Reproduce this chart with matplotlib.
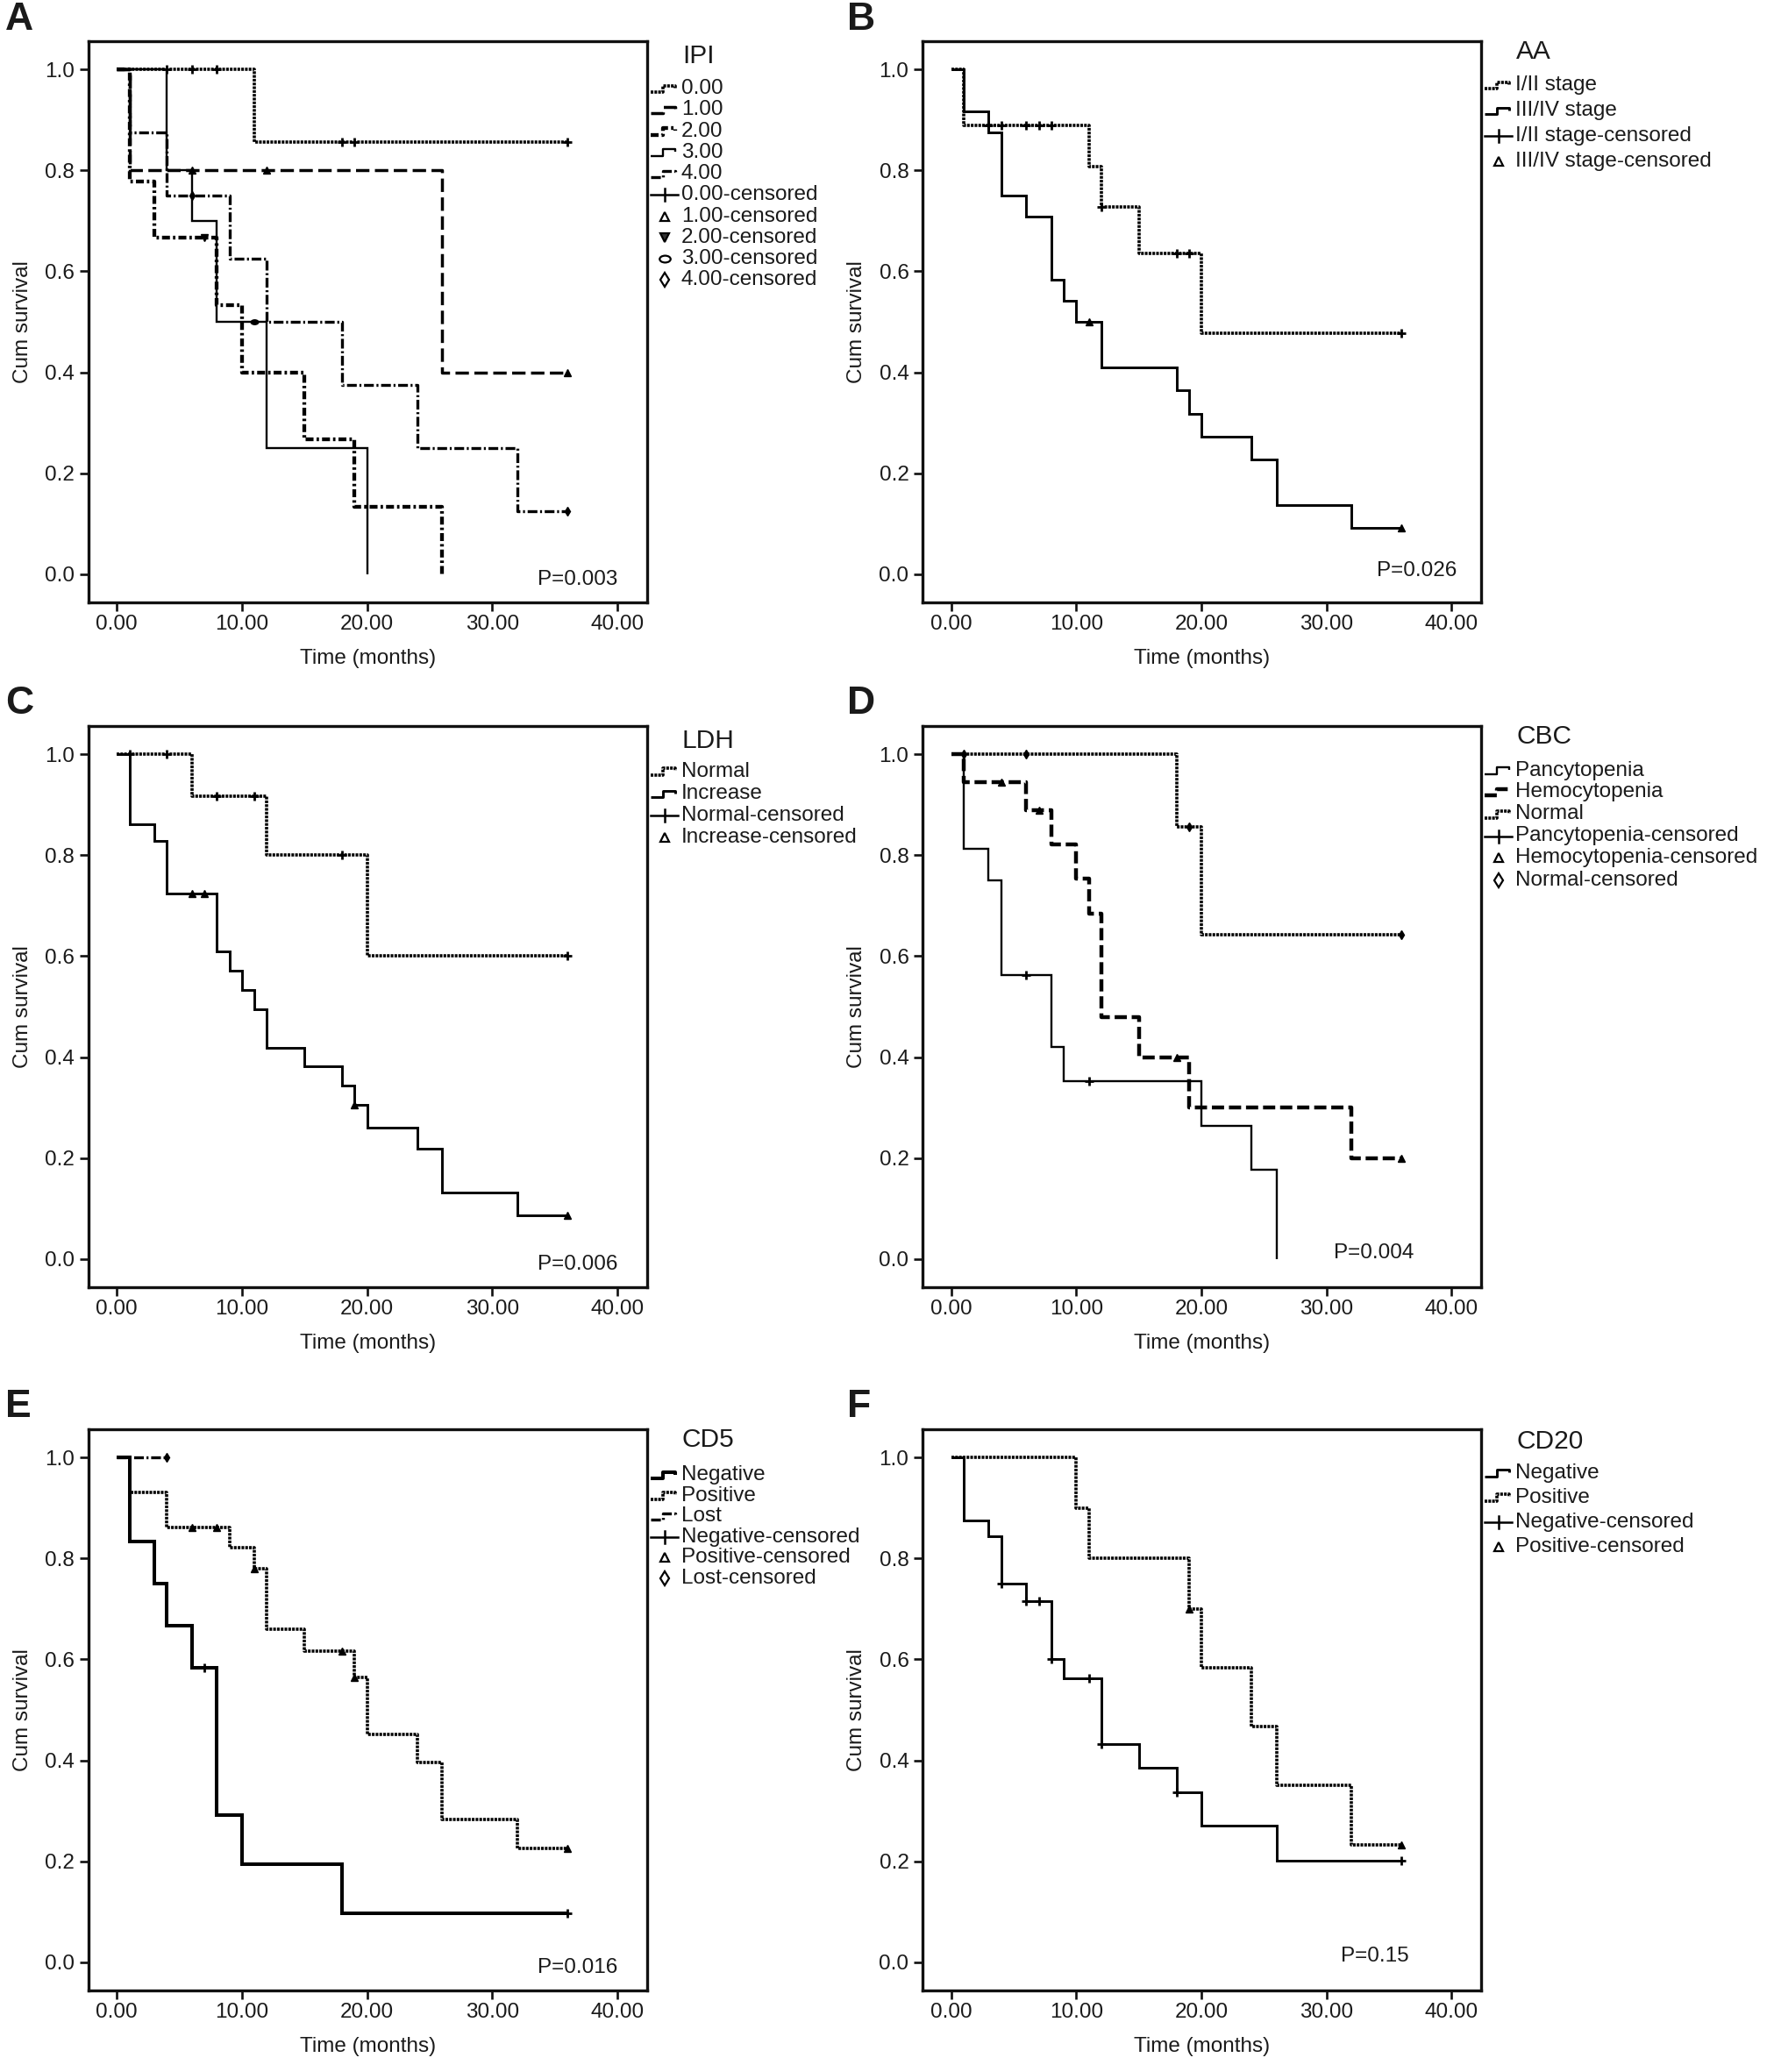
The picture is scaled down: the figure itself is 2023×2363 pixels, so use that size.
import numpy as np
import matplotlib
matplotlib.use('Agg')
import matplotlib.pyplot as plt
from matplotlib.lines import Line2D
from matplotlib.path import Path
from matplotlib.transforms import Affine2D

plt.rcParams['font.family'] = ['Liberation Sans', 'DejaVu Sans']
plt.rcParams['lines.scale_dashes'] = False

W, H, DPI = 2024, 2363, 100
TXT = '#1a1a1a'

# ---------------- data (step points: time, survival after that time) ----------------
# A: IPI
ipi_names = ['0.00', '1.00', '2.00', '3.00', '4.00']
ipi0_t = [0, 11, 36]
ipi0_s = [1.0, 0.857, 0.857]
ipi0_c = [4, 6, 8, 18, 19, 36]
ipi1_t = [0, 1, 26, 36]
ipi1_s = [1.0, 0.8, 0.4, 0.4]
ipi1_c = [6, 12, 36]
ipi2_t = [0, 1, 3, 8, 10, 15, 19, 26]
ipi2_s = [1.0, 0.778, 0.667, 0.533, 0.4, 0.267, 0.133, 0.0]
ipi2_c = [7]
ipi3_t = [0, 4, 6, 8, 12, 20]
ipi3_s = [1.0, 0.8, 0.7, 0.5, 0.25, 0.0]
ipi3_c = [11]
ipi4_t = [0, 1, 4, 9, 12, 18, 24, 32, 36]
ipi4_s = [1.0, 0.875, 0.75, 0.625, 0.5, 0.375, 0.25, 0.125, 0.125]
ipi4_c = [6, 36]

# B: AA
aa_names = ['I/II stage', 'III/IV stage']
aa12_t = [0, 1, 11, 12, 15, 20, 36]
aa12_s = [1.0, 0.889, 0.808, 0.727, 0.636, 0.477, 0.477]
aa12_c = [3, 4, 6, 7, 8, 12, 18, 19, 36]
aa34_t = [0, 1, 3, 4, 6, 8, 9, 10, 12, 18, 19, 20, 24, 26, 32, 36]
aa34_s = [1.0, 0.917, 0.875, 0.75, 0.708, 0.583, 0.542, 0.5, 0.409, 0.364, 0.318,
          0.273, 0.227, 0.136, 0.091, 0.091]
aa34_c = [11, 36]

# C: LDH
ldh_names = ['Normal', 'Increase']
ldhn_t = [0, 6, 12, 20, 36]
ldhn_s = [1.0, 0.917, 0.80, 0.60, 0.60]
ldhn_c = [1, 4, 8, 11, 18, 36]
ldhi_t = [0, 1, 3, 4, 8, 9, 10, 11, 12, 15, 18, 19, 20, 24, 26, 32, 36]
ldhi_s = [1.0, 0.862, 0.828, 0.724, 0.61, 0.571, 0.533, 0.495, 0.419, 0.381, 0.343,
          0.305, 0.261, 0.218, 0.131, 0.087, 0.087]
ldhi_c = [6, 7, 19, 36]

# D: CBC
cbc_names = ['Pancytopenia', 'Hemocytopenia', 'Normal']
cbcp_t = [0, 1, 3, 4, 8, 9, 20, 24, 26]
cbcp_s = [1.0, 0.8125, 0.75, 0.5625, 0.42, 0.352, 0.264, 0.176, 0.0]
cbcp_c = [6, 11]
cbch_t = [0, 1, 6, 8, 10, 11, 12, 15, 19, 32, 36]
cbch_s = [1.0, 0.944, 0.889, 0.822, 0.753, 0.685, 0.48, 0.40, 0.30, 0.20, 0.20]
cbch_c = [4, 7, 18, 36]
cbcn_t = [0, 18, 20, 36]
cbcn_s = [1.0, 0.857, 0.643, 0.643]
cbcn_c = [1, 6, 19, 36]

# E: CD5
cd5_names = ['Negative', 'Positive', 'Lost']
cd5n_t = [0, 1, 3, 4, 6, 8, 10, 18, 36]
cd5n_s = [1.0, 0.833, 0.75, 0.667, 0.583, 0.292, 0.194, 0.097, 0.097]
cd5n_c = [7, 36]
cd5p_t = [0, 1, 4, 9, 11, 12, 15, 19, 20, 24, 26, 32, 36]
cd5p_s = [1.0, 0.931, 0.862, 0.821, 0.78, 0.66, 0.616, 0.565, 0.452, 0.396, 0.283,
          0.226, 0.226]
cd5p_c = [6, 8, 11, 18, 19, 36]
cd5l_t = [0, 4]
cd5l_s = [1.0, 1.0]
cd5l_c = [4]

# F: CD20
cd20_names = ['Negative', 'Positive']
cd20n_t = [0, 1, 3, 4, 6, 8, 9, 12, 15, 18, 20, 26, 36]
cd20n_s = [1.0, 0.875, 0.844, 0.75, 0.716, 0.60, 0.563, 0.433, 0.385, 0.337, 0.27,
           0.202, 0.202]
cd20n_c = [4, 6, 7, 8, 11, 12, 18, 36]
cd20p_t = [0, 10, 11, 19, 20, 24, 26, 32, 36]
cd20p_s = [1.0, 0.9, 0.8, 0.7, 0.583, 0.467, 0.35, 0.233, 0.233]
cd20p_c = [19, 36]

p_values = ['P=0.003', 'P=0.026', 'P=0.006', 'P=0.004', 'P=0.016', 'P=0.15']
x_ticks = [0, 10, 20, 30, 40]
y_ticks = [0.0, 0.2, 0.4, 0.6, 0.8, 1.0]

# ---------------- styles ----------------
DOT = dict(ls=(0, (2.2, 0.9)), lw=2.6)
LDASH = dict(ls=(0, (11, 4.5)), lw=2.5)
HDASHDOT = dict(ls=(0, (6.5, 2.5, 2.0, 2.5)), lw=3.1)
THIN = dict(ls='-', lw=1.7)
MED = dict(ls='-', lw=2.1)
THICK = dict(ls='-', lw=2.9)
DASHDOT = dict(ls=(0, (8, 2.2, 1.6, 2.2)), lw=2.4)
HDASH = dict(ls=(0, (10, 4)), lw=3.2)

ell = Affine2D().scale(1.6, 1.0).transform_path(Path.unit_circle())

# plot-marker styles
PM = {
    'plus': dict(marker='+', ms=7, mew=2.0),
    'tri': dict(marker='^', ms=6, mew=1.0),
    'tridn': dict(marker='v', ms=6, mew=1.0),
    'ell': dict(marker=ell, ms=6, mew=1.2),
    'dia': dict(marker='d', ms=5, mew=1.0),
}

fig = plt.figure(figsize=(W / DPI, H / DPI), dpi=DPI)

col_left = [101, 1052.4]
row_top = [47, 828, 1630]
AX_W, AX_H = 637, 640


def px2fig(x, y):
    return x / W, 1 - y / H


def step_val(t, s, c):
    i = np.searchsorted(np.asarray(t, float), c, side='right') - 1
    return s[i]


def draw_series(ax, t, s, style, cens, mk):
    ax.step(t, s, where='post', color='black', linestyle=style['ls'],
            lw=style['lw'], solid_capstyle='butt', dash_capstyle='butt',
            solid_joinstyle='miter')
    cy = [step_val(t, s, c) for c in cens]
    ax.plot(cens, cy, linestyle='none', color='black', mfc='black', mec='black', **PM[mk])


def draw_legend(ax_right, ax_top, title, entries, title_dy, first_dy, spacing):
    fig.text(*px2fig(ax_right + 40, ax_top + title_dy), title, fontsize=21.5,
             va='center', ha='left', color=TXT)
    for i, (label, kind, style) in enumerate(entries):
        yc = ax_top + first_dy + i * spacing
        x0 = ax_right + 4
        if kind == 'line':
            xs = [x0, x0 + 14, x0 + 14, x0 + 28, x0 + 28]
            ys = [yc + 4, yc + 4, yc - 3.5, yc - 3.5, yc - 0.5]
            fx = [px2fig(x, y)[0] for x, y in zip(xs, ys)]
            fy = [px2fig(x, y)[1] for x, y in zip(xs, ys)]
            fig.add_artist(Line2D(fx, fy, transform=fig.transFigure, color='black',
                                  linestyle=style['ls'], lw=style['lw'],
                                  solid_capstyle='butt', dash_capstyle='butt'))
        else:
            xm = ax_right + 20
            if style == 'plus':
                a = px2fig(x0, yc); b = px2fig(x0 + 31, yc)
                fig.add_artist(Line2D([a[0], b[0]], [a[1], b[1]], transform=fig.transFigure,
                                      color='black', lw=1.8))
                a = px2fig(xm, yc - 7); b = px2fig(xm, yc + 7)
                fig.add_artist(Line2D([a[0], b[0]], [a[1], b[1]], transform=fig.transFigure,
                                      color='black', lw=1.8))
            else:
                mdict = {'tri': ('^', 7, 'white'), 'tridn': ('v', 7, '#333333'),
                         'ell': (ell, 9, 'white'), 'dia': ('d', 8, 'white')}
                m, ms, fc = mdict[style]
                p = px2fig(xm, yc)
                fig.add_artist(Line2D([p[0]], [p[1]], transform=fig.transFigure,
                                      marker=m, ms=ms, mfc=fc, mec='black', mew=1.6,
                                      linestyle='none'))
        fig.text(*px2fig(ax_right + 39, yc), label, fontsize=17.5, va='center',
                 ha='left', color=TXT)


panels = [
    dict(letter='A', col=0, row=0, title='IPI', p=p_values[0], pxy=(40.0, -0.010),
         series=[(ipi0_t, ipi0_s, DOT, ipi0_c, 'plus'),
                 (ipi1_t, ipi1_s, LDASH, ipi1_c, 'tri'),
                 (ipi2_t, ipi2_s, HDASHDOT, ipi2_c, 'tridn'),
                 (ipi3_t, ipi3_s, THIN, ipi3_c, 'ell'),
                 (ipi4_t, ipi4_s, DASHDOT, ipi4_c, 'dia')],
         legend=[(ipi_names[0], 'line', DOT), (ipi_names[1], 'line', LDASH),
                 (ipi_names[2], 'line', HDASHDOT), (ipi_names[3], 'line', THIN),
                 (ipi_names[4], 'line', DASHDOT),
                 (ipi_names[0] + '-censored', 'mk', 'plus'),
                 (ipi_names[1] + '-censored', 'mk', 'tri'),
                 (ipi_names[2] + '-censored', 'mk', 'tridn'),
                 (ipi_names[3] + '-censored', 'mk', 'ell'),
                 (ipi_names[4] + '-censored', 'mk', 'dia')],
         leg=(16.7, 54, 24.26)),
    dict(letter='B', col=1, row=0, title='AA', p=p_values[1], pxy=(40.4, 0.007),
         series=[(aa12_t, aa12_s, DOT, aa12_c, 'plus'),
                 (aa34_t, aa34_s, MED, aa34_c, 'tri')],
         legend=[(aa_names[0], 'line', DOT), (aa_names[1], 'line', MED),
                 (aa_names[0] + '-censored', 'mk', 'plus'),
                 (aa_names[1] + '-censored', 'mk', 'tri')],
         leg=(11.6, 50, 29)),
    dict(letter='C', col=0, row=1, title='LDH', p=p_values[2], pxy=(40.0, -0.011),
         series=[(ldhn_t, ldhn_s, DOT, ldhn_c, 'plus'),
                 (ldhi_t, ldhi_s, MED, ldhi_c, 'tri')],
         legend=[(ldh_names[0], 'line', DOT), (ldh_names[1], 'line', MED),
                 (ldh_names[0] + '-censored', 'mk', 'plus'),
                 (ldh_names[1] + '-censored', 'mk', 'tri')],
         leg=(16.6, 51.8, 25.2)),
    dict(letter='D', col=1, row=1, title='CBC', p=p_values[3], pxy=(37.0, 0.011),
         series=[(cbcp_t, cbcp_s, THIN, cbcp_c, 'plus'),
                 (cbch_t, cbch_s, HDASH, cbch_c, 'tri'),
                 (cbcn_t, cbcn_s, DOT, cbcn_c, 'dia')],
         legend=[(cbc_names[0], 'line', THIN), (cbc_names[1], 'line', HDASH),
                 (cbc_names[2], 'line', DOT),
                 (cbc_names[0] + '-censored', 'mk', 'plus'),
                 (cbc_names[1] + '-censored', 'mk', 'tri'),
                 (cbc_names[2] + '-censored', 'mk', 'dia')],
         leg=(11.6, 50.5, 25.0)),
    dict(letter='E', col=0, row=2, title='CD5', p=p_values[4], pxy=(40.0, -0.011),
         series=[(cd5n_t, cd5n_s, THICK, cd5n_c, 'plus'),
                 (cd5p_t, cd5p_s, DOT, cd5p_c, 'tri'),
                 (cd5l_t, cd5l_s, DASHDOT, cd5l_c, 'dia')],
         legend=[(cd5_names[0], 'line', THICK), (cd5_names[1], 'line', DOT),
                 (cd5_names[2], 'line', DASHDOT),
                 (cd5_names[0] + '-censored', 'mk', 'plus'),
                 (cd5_names[1] + '-censored', 'mk', 'tri'),
                 (cd5_names[2] + '-censored', 'mk', 'dia')],
         leg=(12.3, 52.2, 23.5)),
    dict(letter='F', col=1, row=2, title='CD20', p=p_values[5], pxy=(36.6, 0.011),
         series=[(cd20n_t, cd20n_s, MED, cd20n_c, 'plus'),
                 (cd20p_t, cd20p_s, DOT, cd20p_c, 'tri')],
         legend=[(cd20_names[0], 'line', MED), (cd20_names[1], 'line', DOT),
                 (cd20_names[0] + '-censored', 'mk', 'plus'),
                 (cd20_names[1] + '-censored', 'mk', 'tri')],
         leg=(13.8, 49.8, 28.0)),
]

letter_x = [6, 966]
letter_y = [2, 782, 1584]

for pn in panels:
    left = col_left[pn['col']]
    top = row_top[pn['row']]
    ax = fig.add_axes([left / W, 1 - (top + AX_H) / H, AX_W / W, AX_H / H])
    for (t, s, st, c, mk) in pn['series']:
        draw_series(ax, t, s, st, c, mk)
    ax.set_xlim(-2.26, 42.38)
    ax.set_ylim(-0.056, 1.056)
    ax.set_xticks(x_ticks)
    ax.set_xticklabels(['%.2f' % v for v in x_ticks])
    ax.set_yticks(y_ticks)
    ax.set_yticklabels(['%.1f' % v for v in y_ticks])
    for sp in ax.spines.values():
        sp.set_linewidth(2.4)
        sp.set_color('#111111')
    ax.tick_params(axis='both', direction='out', length=7.2, width=1.9,
                   labelsize=17.5, colors='#111111', labelcolor=TXT)
    ax.tick_params(axis='x', pad=3)
    ax.tick_params(axis='y', pad=4.3)
    ax.set_xlabel('Time (months)', fontsize=17.5, color=TXT)
    ax.set_ylabel('Cum survival', fontsize=17.5, color=TXT)
    ax.xaxis.label.set_va('center')
    ax.xaxis.set_label_coords(0.5, -64 / AX_H)
    ax.yaxis.label.set_va('center')
    ax.yaxis.label.set_ha('center')
    ax.yaxis.set_label_coords(-75 / AX_W, 0.5)
    ax.text(pn['pxy'][0], pn['pxy'][1], pn['p'], ha='right', va='center',
            fontsize=17.5, color=TXT)
    td, fd, sp_ = pn['leg']
    draw_legend(left + AX_W, top, pn['title'], pn['legend'], td, fd, sp_)
    fig.text(*px2fig(letter_x[pn['col']], letter_y[pn['row']]), pn['letter'],
             fontsize=32, fontweight='bold', ha='left', va='top', color=TXT)

fig.savefig('out.png', dpi=DPI, facecolor='white')
